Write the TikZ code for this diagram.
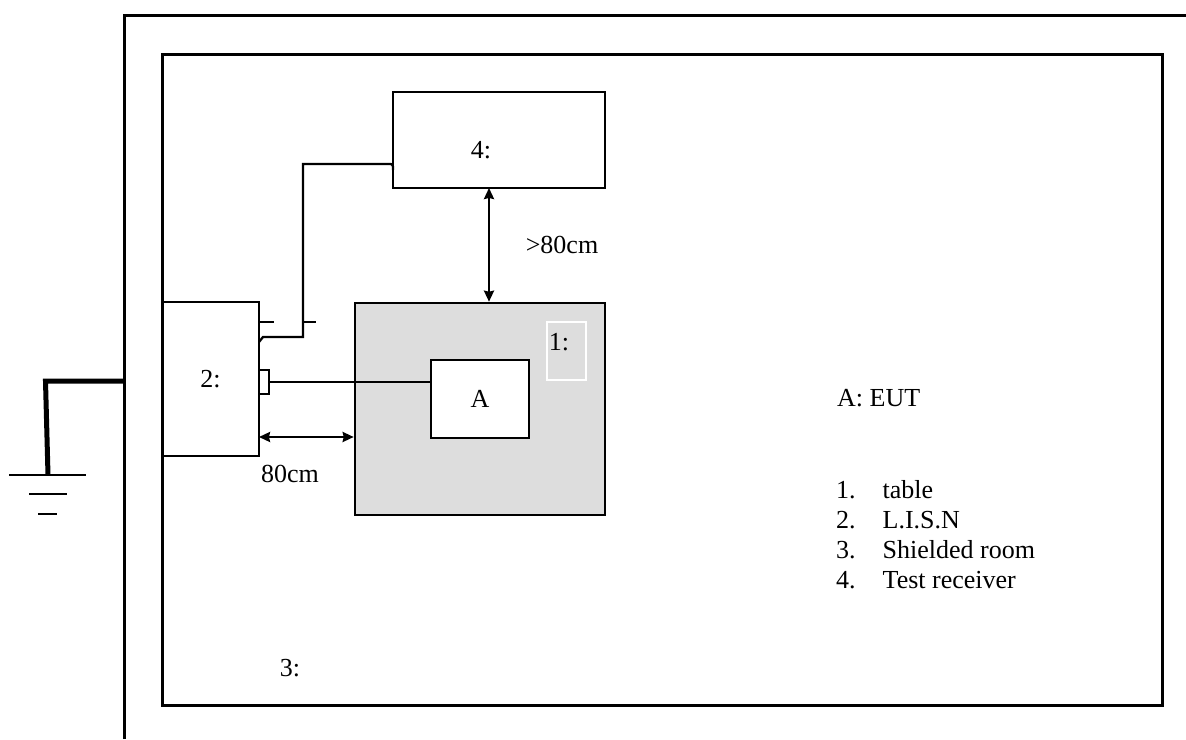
\documentclass[tikz,border=0pt]{standalone}
\usepackage{fontspec}
\setmainfont{Liberation Serif}
\usepackage{tikz}
\usetikzlibrary{arrows.meta,positioning,calc}

\definecolor{tablegray}{RGB}{221,221,221}

\tikzset{
  wall/.style={line width=3pt},
  unit/.style={draw,line width=2.6pt,inner sep=0pt},
  cable/.style={line width=2.3pt},
  dim/.style={line width=2.3pt,{Stealth[length=11pt,width=10pt,inset=1pt]}-{Stealth[length=11pt,width=10pt,inset=1pt]}},
  earth/.style={line width=5pt},
  lbl/.style={inner sep=0pt}
}

\begin{document}
\begin{tikzpicture}[x=1pt,y=-1pt,font=\fontsize{26}{30}\selectfont]
  \useasboundingbox (0,0) rectangle (1186,739);
  % shielded room walls
  \draw[wall] (124,739) -- (124,15) -- (1186,15);
  \node[unit,line width=3pt,minimum width=1000pt,minimum height=651pt] (room) at (662,379.5) {};
  % test receiver, table, EUT, LISN
  \node[unit,minimum width=212pt,minimum height=96pt] (rx) at (499,140) {};
  \node[unit,fill=tablegray,minimum width=250pt,minimum height=212pt] (table) at (480,409) {};
  \node[draw=white,line width=1.8pt,minimum width=39pt,minimum height=58pt] (tabmark) at (566.5,351) {};
  \node[unit,fill=white,minimum width=98pt,minimum height=78pt] (eut) at (480,399) {A};
  \node[unit,minimum width=97pt,minimum height=154pt] (lisn) at (210.5,379) {2:};
  \node[unit,line width=2pt,minimum width=10pt,minimum height=24pt] (plug) at (264,382) {};
  \node[lbl] (n4) at (481,150) {4:};
  \node[lbl] (n1) at (559,342) {1:};
  \node[lbl] (n3) at (290,668) {3:};
  % cables
  \draw[cable] (plug.east) -- (eut.west |- plug.east);
  \coordinate (lisntap) at (259,342);
  \coordinate (rxtap) at (393,170);
  \draw[cable] (lisntap) -- ++(4,-5) -| (303,164) -- (388,164) .. controls (393,164) .. (rxtap);
  \draw[cable] (259,322) -- ++(15,0);
  \draw[cable] (303,322) -- ++(13,0);
  % distances
  \coordinate (dh) at (259,437);
  \draw[dim] (dh) -- (dh -| table.west);
  \node[lbl] (l80) at (290,474) {80cm};
  \coordinate (dv) at (489,188);
  \draw[dim] (dv) -- (dv |- table.north);
  \node[lbl] (l80b) at (562,245) {>80cm};
  % ground
  \coordinate (gnd) at (48,475);
  \draw[earth] (124,381) -- (45.5,381) -- (gnd);
  \draw[cable,line width=2.6pt] ($(gnd)+(-39,0)$) -- ++(77,0);
  \draw[cable,line width=2.6pt] ($(gnd)+(-19,19)$) -- ++(38,0);
  \draw[cable,line width=2.6pt] ($(gnd)+(-10,39)$) -- ++(19,0);
  % legend
  \node[lbl,anchor=base west] (legA) at (837,406) {A: EUT};
  \foreach \t [count=\i] in {table,L.I.S.N,Shielded room,Test receiver}
    \node[lbl,anchor=base west] (leg\i) at (836,{468+30*\i}) {\i.\hspace{27pt}\t};
\end{tikzpicture}
\end{document}
